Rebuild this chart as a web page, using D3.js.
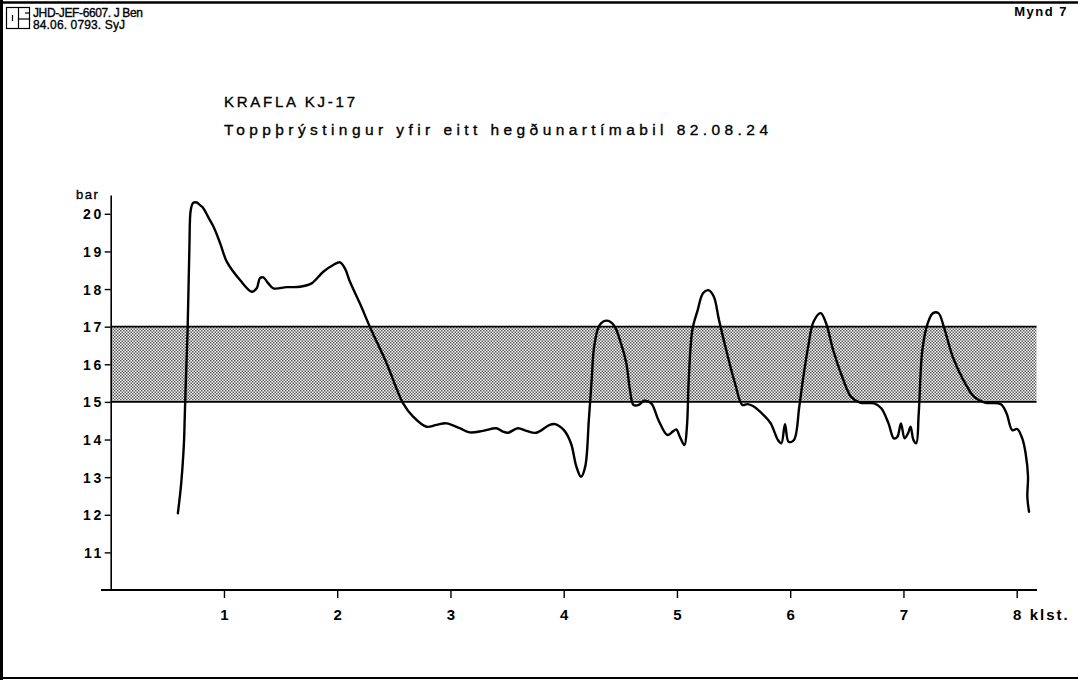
<!DOCTYPE html>
<html>
<head>
<meta charset="utf-8">
<script src="https://cdn.jsdelivr.net/npm/d3@7"></script>
<style>
    body { margin: 0; background: #fff; }
    svg { display: block; }
    text { font-family: "Liberation Sans", "DejaVu Sans", sans-serif; fill: #000; }
</style>
</head>
<body>
<svg id="chart" width="1078" height="680"></svg>
<script>
// time in hours (klst.) and top pressure in bar
const hours = [0.593, 0.617, 0.635, 0.648, 0.653, 0.661, 0.679, 0.695, 0.707, 0.728, 0.760, 0.789, 0.818, 0.860, 0.907, 0.966,
    1.025, 1.142, 1.245, 1.289, 1.318, 1.347, 1.392, 1.436, 1.554, 1.671, 1.774, 1.877, 1.965,
    2.024, 2.068, 2.112, 2.200, 2.288, 2.436, 2.582, 2.670, 2.788, 2.877, 2.965,
    3.082, 3.170, 3.287, 3.406, 3.464, 3.508, 3.596, 3.670, 3.758, 3.876, 3.923,
    4.002, 4.064, 4.112, 4.153, 4.190, 4.222, 4.247, 4.269, 4.317, 4.379, 4.443, 4.505, 4.553, 4.585, 4.616, 4.663, 4.710, 4.773, 4.836, 4.915, 4.962, 4.994,
    5.026, 5.066, 5.088, 5.104, 5.136, 5.183, 5.230, 5.277, 5.325, 5.371, 5.435, 5.513, 5.577, 5.623, 5.671, 5.765, 5.828, 5.891, 5.922, 5.954, 5.986,
    6.033, 6.080, 6.112, 6.159, 6.206, 6.269, 6.317, 6.379, 6.459, 6.537, 6.616, 6.742, 6.804, 6.868, 6.915, 6.946, 6.978,
    7.010, 7.041, 7.063, 7.088, 7.113, 7.135, 7.167, 7.214, 7.261, 7.309, 7.356, 7.435, 7.529, 7.623, 7.718, 7.860, 7.910, 7.961,
    8.005, 8.049, 8.079, 8.100, 8.094, 8.109];
const pressure = [12.04, 12.66, 13.32, 13.99, 14.52, 15.32, 16.91, 19.12, 20.10, 20.29, 20.30, 20.23, 20.15, 19.92, 19.66, 19.22,
    18.73, 18.24, 17.93, 18.02, 18.29, 18.31, 18.15, 18.02, 18.05, 18.06, 18.15, 18.46, 18.64,
    18.71, 18.55, 18.20, 17.62, 17.00, 16.03, 14.96, 14.61, 14.34, 14.39, 14.43,
    14.30, 14.19, 14.23, 14.30, 14.21, 14.18, 14.30, 14.23, 14.18, 14.39, 14.41,
    14.25, 13.90, 13.28, 13.01, 13.28, 14.52, 15.58, 16.47, 17.04, 17.16, 17.04, 16.56, 16.03, 15.32, 14.92, 14.92, 15.03, 14.96, 14.52, 14.12, 14.21, 14.27,
    14.07, 13.85, 14.34, 15.58, 16.91, 17.44, 17.89, 17.97, 17.80, 17.18, 16.38, 15.49, 14.92, 14.94, 14.89, 14.65, 14.43, 13.99, 13.90, 14.41, 13.94,
    13.99, 14.87, 15.58, 16.47, 17.13, 17.36, 17.09, 16.38, 15.67, 15.14, 14.98, 14.96, 14.83, 14.43, 14.03, 14.07, 14.43,
    14.03, 14.17, 14.34, 13.99, 13.90, 14.70, 16.38, 17.09, 17.36, 17.36, 17.00, 16.20, 15.58, 15.14, 14.98, 14.94, 14.70, 14.25,
    14.28, 14.03, 13.63, 13.01, 12.48, 12.08];

const xTicks = [1, 2, 3, 4, 5, 6, 7, 8];
const yTicks = [11, 12, 13, 14, 15, 16, 17, 18, 19, 20];
const band = [15, 17];

const headerLines = ["JHD-JEF-6607. J Ben", "84.06. 0793.  SyJ"];
const figLabel = "Mynd 7";
const title = "KRAFLA KJ-17";
const subtitle = "Toppþrýstingur yfir eitt hegðunartímabil 82.08.24";

const svg = d3.select("#chart");

// frame
svg.append("line").attr("x1", 1.5).attr("y1", 0).attr("x2", 1.5).attr("y2", 680).attr("stroke", "#000").attr("stroke-width", 3);
svg.append("line").attr("x1", 0).attr("y1", 2.5).attr("x2", 1078).attr("y2", 2.5).attr("stroke", "#000").attr("stroke-width", 2.5);
svg.append("line").attr("x1", 0).attr("y1", 678).attr("x2", 1078).attr("y2", 678).attr("stroke", "#000").attr("stroke-width", 2);

// stamp box top-left
const logo = svg.append("g").attr("stroke", "#000").attr("stroke-width", 1.2).attr("fill", "none");
logo.append("rect").attr("x", 6.5).attr("y", 7.5).attr("width", 23).attr("height", 21);
logo.append("line").attr("x1", 18.5).attr("y1", 7.5).attr("x2", 18.5).attr("y2", 28.5);
logo.append("line").attr("x1", 12.5).attr("y1", 15).attr("x2", 12.5).attr("y2", 21);
logo.append("line").attr("x1", 18.5).attr("y1", 19).attr("x2", 29.5).attr("y2", 19);
logo.append("line").attr("x1", 25).attr("y1", 13).attr("x2", 29.5).attr("y2", 13);

const pen = sel => sel.attr("stroke", "#000").attr("stroke-width", 0.35);

svg.append("text").attr("x", 33).attr("y", 17).attr("font-size", 12).attr("textLength", 110).attr("lengthAdjust", "spacing").call(pen).text(headerLines[0]);
svg.append("text").attr("x", 33).attr("y", 29).attr("font-size", 12).attr("textLength", 92).attr("lengthAdjust", "spacing").call(pen).text(headerLines[1]);
svg.append("text").attr("x", 1068).attr("y", 16).attr("font-size", 13).attr("font-weight", "bold").attr("text-anchor", "end").attr("letter-spacing", 1.5).text(figLabel);

svg.append("text").attr("x", 224).attr("y", 107).attr("font-size", 15).attr("textLength", 131).attr("lengthAdjust", "spacing").call(pen).text(title);
svg.append("text").attr("x", 224).attr("y", 135).attr("font-size", 15.5).attr("textLength", 544).attr("lengthAdjust", "spacing").call(pen).text(subtitle);

// scales
const x = d3.scaleLinear().domain([0, 8]).range([110.7, 1016.7]);
const y = d3.scaleLinear().domain([10, 20.5]).range([590, 195]);

// shaded band
const defs = svg.append("defs");
const pat = defs.append("pattern").attr("id", "stipple").attr("patternUnits", "userSpaceOnUse").attr("width", 3).attr("height", 3);
pat.append("rect").attr("width", 3).attr("height", 3).attr("fill", "#fff");
pat.append("rect").attr("x", 0).attr("y", 0).attr("width", 1.5).attr("height", 1.5).attr("fill", "#555");
pat.append("rect").attr("x", 1.5).attr("y", 1.5).attr("width", 1.5).attr("height", 1.5).attr("fill", "#555");

const bandRight = 1036.5;
svg.append("rect").attr("x", x(0)).attr("y", y(band[1])).attr("width", bandRight - x(0)).attr("height", y(band[0]) - y(band[1])).attr("fill", "url(#stipple)");
band.forEach(b => {
    svg.append("line").attr("x1", x(0)).attr("x2", bandRight).attr("y1", y(b)).attr("y2", y(b)).attr("stroke", "#000").attr("stroke-width", 1.8);
});

// axes
const yAxis = svg.append("g").attr("transform", `translate(${x(0)},0)`)
    .call(d3.axisLeft(y).tickValues(yTicks).tickSize(6).tickSizeOuter(0).tickFormat(d3.format("d")));
yAxis.select(".domain").attr("stroke-width", 1.6);
yAxis.selectAll(".tick line").attr("stroke-width", 1.4);
yAxis.selectAll(".tick text").attr("font-size", 14).attr("font-weight", "bold").attr("letter-spacing", 2.5).attr("x", -7).attr("dy", "0.36em");

svg.append("line").attr("x1", 101).attr("x2", 1037).attr("y1", y(10)).attr("y2", y(10)).attr("stroke", "#000").attr("stroke-width", 1.8);
const xAxis = svg.append("g").attr("transform", `translate(0,${y(10)})`)
    .call(d3.axisBottom(x).tickValues(xTicks).tickSize(8).tickSizeOuter(0).tickFormat(d3.format("d")));
xAxis.select(".domain").remove();
xAxis.selectAll(".tick line").attr("stroke-width", 1.4);
xAxis.selectAll(".tick text").attr("font-size", 15).attr("font-weight", "bold").attr("y", 19);

svg.append("text").attr("x", 76).attr("y", 199).attr("font-size", 13).attr("letter-spacing", 1.5).call(pen).text("bar");
svg.append("text").attr("x", x(8) + 13).attr("y", y(10) + 30).attr("font-size", 15).attr("font-weight", "bold").attr("letter-spacing", 2).text("klst.");

// pressure curve
const pts = hours.map((h, i) => [h, pressure[i]]);
const line = d3.line().x(d => x(d[0])).y(d => y(d[1])).curve(d3.curveCatmullRom.alpha(0.5));
svg.append("path").datum(pts).attr("d", line).attr("fill", "none").attr("stroke", "#000").attr("stroke-width", 2.4).attr("stroke-linejoin", "round").attr("stroke-linecap", "round");
</script>
</body>
</html>
